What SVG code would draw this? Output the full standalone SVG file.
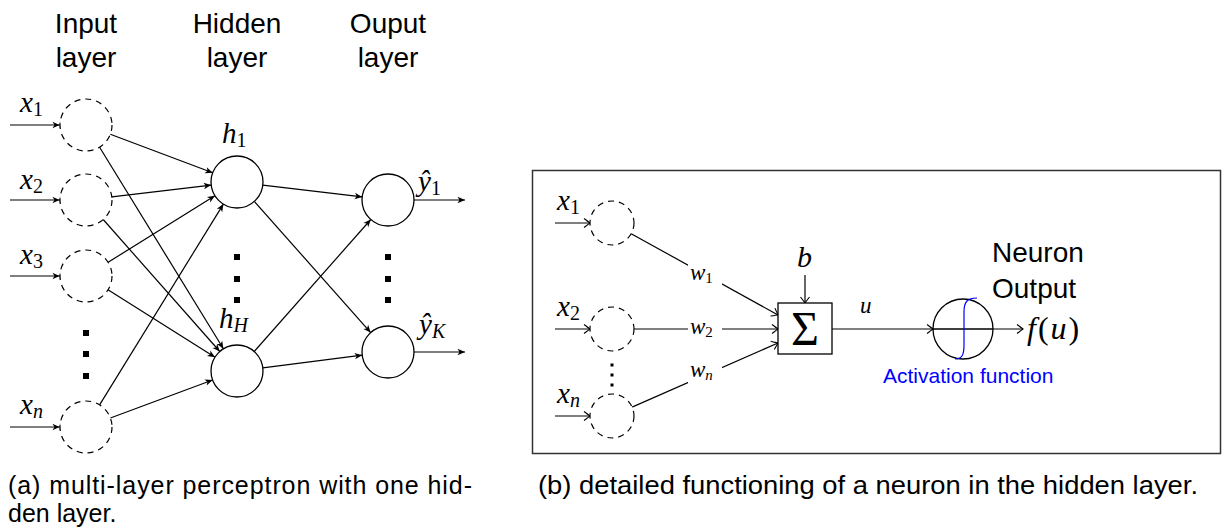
<svg xmlns="http://www.w3.org/2000/svg" width="1222" height="532" viewBox="0 0 1222 532">
<style>
.sans{font-family:"Liberation Sans",Arial,sans-serif;fill:#000}
.math{font-family:"Liberation Serif","Times New Roman",serif;font-style:italic;fill:#000}
.sub{font-style:normal}
.dash{fill:#fff;stroke:#000;stroke-width:1.2;stroke-dasharray:6 5}
.node{fill:#fff;stroke:#000;stroke-width:1.3}
.edge{stroke:#000;stroke-width:1.2;fill:none}
.dot{fill:#000}
</style>
<defs>
<marker id="ah" viewBox="-8 -4 9 8" refX="0" refY="0" markerWidth="9" markerHeight="8" markerUnits="userSpaceOnUse" orient="auto">
<path d="M0,0 L-7.5,-3.2 L-5.5,0 L-7.5,3.2 Z" fill="#000"/>
</marker>
<marker id="ahbar" viewBox="-8 -4 9 8" refX="0" refY="0" markerWidth="9" markerHeight="8" markerUnits="userSpaceOnUse" orient="auto">
<path d="M-0.5,0 L-7.5,-3.2 L-5.5,0 L-7.5,3.2 Z" fill="#000"/>
<path d="M0.3,-3.2 L0.3,3.2" stroke="#000" stroke-width="1"/>
</marker>
<marker id="to" viewBox="-8 -6 10 12" refX="0" refY="0" markerWidth="10" markerHeight="12" markerUnits="userSpaceOnUse" orient="auto">
<path d="M-6,-4.5 Q-1.5,-1 0,0 Q-1.5,1 -6,4.5" fill="none" stroke="#000" stroke-width="1.1"/>
</marker>
</defs>
<rect x="0" y="0" width="1222" height="532" fill="#fff"/>

<!-- Left panel: headers -->
<g id="headers" class="sans" font-size="28" text-anchor="middle">
<text x="86" y="33">Input</text><text x="86" y="67">layer</text>
<text x="237" y="33">Hidden</text><text x="237" y="67">layer</text>
<text x="388" y="33">Ouput</text><text x="388" y="67">layer</text>
</g>

<!-- Left panel connectors -->
<g id="mlp-connectors" class="edge">
<line x1="10" y1="125" x2="60" y2="125" marker-end="url(#ahbar)"/>
<line x1="10" y1="200" x2="60" y2="200" marker-end="url(#ahbar)"/>
<line x1="10" y1="276" x2="60" y2="276" marker-end="url(#ahbar)"/>
<line x1="10" y1="427" x2="60" y2="427" marker-end="url(#ahbar)"/>
<line x1="110.3" y1="134.2" x2="212.7" y2="172.8" marker-end="url(#ah)"/>
<line x1="99.6" y1="147.2" x2="223.4" y2="348.8" marker-end="url(#ah)"/>
<line x1="111.8" y1="196.9" x2="211.2" y2="185.1" marker-end="url(#ah)"/>
<line x1="103.2" y1="219.5" x2="219.8" y2="351.5" marker-end="url(#ah)"/>
<line x1="108.1" y1="262.3" x2="214.9" y2="195.7" marker-end="url(#ah)"/>
<line x1="108.0" y1="289.8" x2="215.0" y2="357.2" marker-end="url(#ah)"/>
<line x1="99.6" y1="404.9" x2="223.4" y2="204.1" marker-end="url(#ah)"/>
<line x1="110.4" y1="418.0" x2="212.6" y2="380.0" marker-end="url(#ah)"/>
<line x1="262.8" y1="185.1" x2="362.2" y2="196.9" marker-end="url(#ah)"/>
<line x1="254.3" y1="201.4" x2="370.7" y2="332.6" marker-end="url(#ah)"/>
<line x1="254.2" y1="351.5" x2="370.8" y2="219.5" marker-end="url(#ah)"/>
<line x1="262.8" y1="367.8" x2="362.2" y2="355.2" marker-end="url(#ah)"/>
<line x1="414" y1="200" x2="465" y2="200" marker-end="url(#ah)"/>
<line x1="414" y1="352" x2="465" y2="352" marker-end="url(#ah)"/>
</g>

<!-- Left panel nodes -->
<g id="in1"><circle class="dash" cx="86" cy="125" r="26"/><text class="math" x="20" y="112" font-size="29">x<tspan class="sub" font-size="20" dy="4">1</tspan></text></g>
<g id="in2"><circle class="dash" cx="86" cy="200" r="26"/><text class="math" x="20" y="189" font-size="29">x<tspan class="sub" font-size="20" dy="4">2</tspan></text></g>
<g id="in3"><circle class="dash" cx="86" cy="276" r="26"/><text class="math" x="20" y="264" font-size="29">x<tspan class="sub" font-size="20" dy="4">3</tspan></text></g>
<g id="inn"><circle class="dash" cx="86" cy="427" r="26"/><text class="math" x="20" y="414" font-size="29">x<tspan font-size="20" dy="4">n</tspan></text></g>
<g id="in-dots"><rect class="dot" x="83" y="330" width="6" height="6"/><rect class="dot" x="83" y="351" width="6" height="6"/><rect class="dot" x="83" y="373" width="6" height="6"/></g>
<g id="h1"><circle class="node" cx="237" cy="182" r="26"/><text class="math" x="222" y="143" font-size="29">h<tspan class="sub" font-size="20" dy="4">1</tspan></text></g>
<g id="hH"><circle class="node" cx="237" cy="371" r="26"/><text class="math" x="219" y="328" font-size="29">h<tspan font-size="20" dy="4">H</tspan></text></g>
<g id="h-dots"><rect class="dot" x="234" y="254" width="6" height="6"/><rect class="dot" x="234" y="276" width="6" height="6"/><rect class="dot" x="234" y="297" width="6" height="6"/></g>
<g id="y1"><circle class="node" cx="388" cy="200" r="26"/><text class="math" x="418" y="191" font-size="29">ŷ<tspan class="sub" font-size="20" dy="4">1</tspan></text></g>
<g id="yK"><circle class="node" cx="388" cy="352" r="26"/><text class="math" x="419" y="334" font-size="29">ŷ<tspan font-size="20" dy="4">K</tspan></text></g>
<g id="o-dots"><rect class="dot" x="385" y="254" width="6" height="6"/><rect class="dot" x="385" y="276" width="6" height="6"/><rect class="dot" x="385" y="297" width="6" height="6"/></g>

<!-- Captions -->
<g id="caption-a" class="sans" font-size="25">
<text x="8" y="494" textLength="464" lengthAdjust="spacing">(a)  multi-layer perceptron with one hid-</text>
<text x="8" y="522">den layer.</text>
</g>
<g id="caption-b" class="sans" font-size="25">
<text x="538" y="494" textLength="660" lengthAdjust="spacingAndGlyphs">(b)  detailed functioning of a neuron in the hidden layer.</text>
</g>

<!-- Right panel -->
<g id="frame"><rect x="532.5" y="170.5" width="688" height="283" fill="none" stroke="#333" stroke-width="1.5"/></g>

<g id="neuron-connectors" class="edge">
<line x1="555" y1="223" x2="590" y2="223" marker-end="url(#to)"/>
<line x1="555" y1="329" x2="590" y2="329" marker-end="url(#to)"/>
<line x1="555" y1="416" x2="590" y2="416" marker-end="url(#to)"/>
<line x1="631.2" y1="233.7" x2="778" y2="315" marker-end="url(#to)"/>
<line x1="634" y1="329" x2="778" y2="329" marker-end="url(#to)"/>
<line x1="632.1" y1="407.1" x2="778" y2="343" marker-end="url(#to)"/>
<line x1="805" y1="275" x2="805" y2="303" marker-end="url(#to)"/>
<line x1="832" y1="329" x2="933" y2="329" marker-end="url(#to)"/>
<line x1="933" y1="329" x2="1023" y2="329" marker-end="url(#to)"/>
<g fill="#fff" stroke="none">
<rect x="688" y="262" width="34" height="24"/>
<rect x="688" y="318" width="34" height="22"/>
<rect x="688" y="361" width="34" height="24"/>
</g>
<g class="math" font-size="23" stroke="none">
<text x="690" y="280">w<tspan class="sub" font-size="15" dy="3">1</tspan></text>
<text x="690" y="334">w<tspan class="sub" font-size="15" dy="3">2</tspan></text>
<text x="690" y="377">w<tspan font-size="15" dy="3">n</tspan></text>
<text x="860" y="313">u</text>
</g>
</g>

<g id="nx1"><circle class="dash" cx="612" cy="223" r="22"/><text class="math" x="557" y="210" font-size="29">x<tspan class="sub" font-size="20" dy="4">1</tspan></text></g>
<g id="nx2"><circle class="dash" cx="612" cy="329" r="22"/><text class="math" x="557" y="316" font-size="29">x<tspan class="sub" font-size="20" dy="4">2</tspan></text></g>
<g id="nxn"><circle class="dash" cx="612" cy="416" r="22"/><text class="math" x="557" y="403" font-size="29">x<tspan font-size="20" dy="4">n</tspan></text></g>
<g id="nx-dots"><rect class="dot" x="610.5" y="363.5" width="3" height="3"/><rect class="dot" x="610.5" y="373.5" width="3" height="3"/><rect class="dot" x="610.5" y="383.5" width="3" height="3"/></g>

<g id="sum"><rect x="778" y="303" width="54" height="51" fill="#fff" stroke="#000" stroke-width="1.3"/><text x="805" y="345" text-anchor="middle" font-family="Liberation Serif,serif" font-size="48">Σ</text></g>
<g id="bias"><text class="math" x="797" y="267" font-size="30">b</text></g>

<g id="activation">
<circle cx="963" cy="329" r="30" fill="none" stroke="#000" stroke-width="1.3"/>
<line x1="933" y1="329" x2="993" y2="329" stroke="#000" stroke-width="1.2"/>
<path d="M955,359 C962,359 964,355 964,345 L964,312 C964,302 967,298 977,298" fill="none" stroke="#0000ff" stroke-width="1.2"/>
<text x="883" y="383" font-family="Liberation Sans,Arial,sans-serif" font-size="21" fill="#0000ff">Activation function</text>
</g>
<g id="output">
<text class="sans" x="992" y="262" font-size="28">Neuron</text>
<text class="sans" x="992" y="298" font-size="28">Output</text>
<text class="math" x="1027" y="339" font-size="32" letter-spacing="2">f<tspan font-style="normal">(</tspan>u<tspan font-style="normal">)</tspan></text>
</g>
</svg>
